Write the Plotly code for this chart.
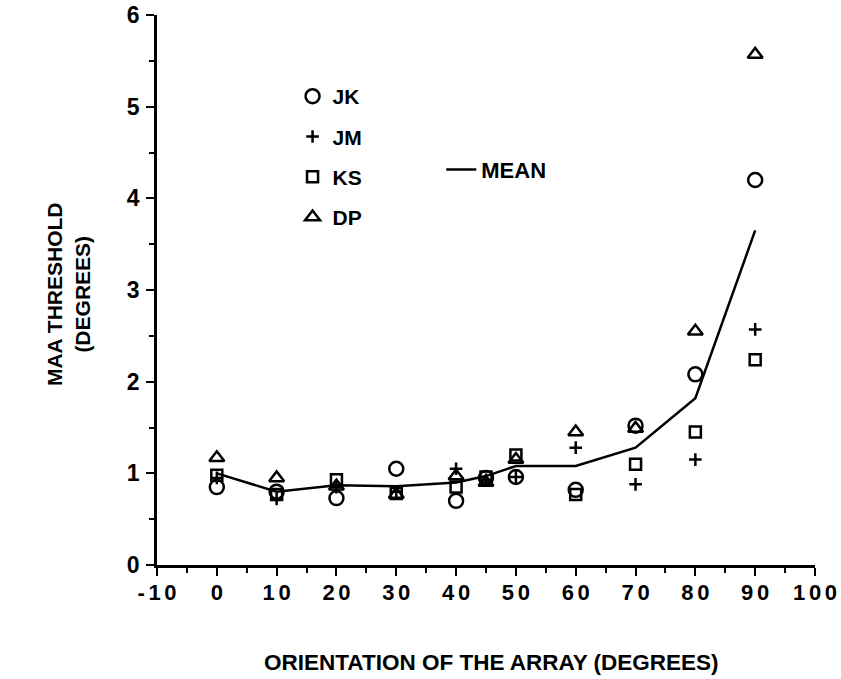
import plotly.graph_objects as go

orient = [0, 10, 20, 30, 40, 45, 50, 60, 70, 80, 90]
jk = [0.85, 0.80, 0.73, 1.05, 0.70, 0.95, 0.96, 0.82, 1.52, 2.08, 4.20]
jm = [0.95, 0.72, 0.85, 0.80, 1.05, 0.93, 0.96, 1.28, 0.88, 1.15, 2.57]
ks = [0.98, 0.77, 0.93, 0.78, 0.85, 0.96, 1.20, 0.77, 1.10, 1.45, 2.24]
dp = [1.17, 0.95, 0.86, 0.77, 0.97, 0.90, 1.15, 1.45, 1.49, 2.55, 5.57]
mean = [1.00, 0.80, 0.87, 0.86, 0.90, 0.97, 1.08, 1.08, 1.28, 1.82, 3.65]

S = "\u2006"
x_tickvals = [-10, 0, 10, 20, 30, 40, 50, 60, 70, 80, 90, 100]
x_ticktext = ["-" + S + "1" + S + "0", "0"] + [S.join(str(v)) for v in x_tickvals[2:]]
y_tickvals = [0, 1, 2, 3, 4, 5, 6]

FONT = "Liberation Sans"
fig = go.Figure()

fig.add_trace(go.Scatter(x=orient, y=mean, mode="lines", name="MEAN",
                         line=dict(color="black", width=2.5), legend="legend2"))

subjects = [("JK", jk, "circle-open", 14), ("JM", jm, "cross-thin-open", 9),
            ("KS", ks, "square-open", 11), ("DP", dp, "triangle-up-open", 13)]
for name, vals, sym, sz in subjects:
    fig.add_trace(go.Scatter(x=orient, y=vals, mode="markers", name=name,
                             legendgroup=name,
                             marker=dict(symbol=sym, size=sz, color="black",
                                         line=dict(color="black", width=2.5))))

fig.update_layout(
    width=841, height=679,
    margin=dict(l=157, r=26, t=15, b=114, autoexpand=False),
    plot_bgcolor="white", paper_bgcolor="white",
    font=dict(family=FONT, color="black", size=20, weight="bold"),
    legend=dict(x=0.206, y=0.889, xanchor="left", yanchor="top",
                tracegroupgap=10, font=dict(size=21, weight="bold"),
                bgcolor="rgba(0,0,0,0)"),
    legend2=dict(x=0.432, y=0.757, xanchor="left", yanchor="top",
                 font=dict(size=22, weight="bold"), bgcolor="rgba(0,0,0,0)"),
    xaxis=dict(range=[-10, 100], tickvals=x_tickvals, ticktext=x_ticktext,
               automargin=False,
               showgrid=False, zeroline=False, showline=True, linecolor="black",
               linewidth=2.5, ticks="outside", ticklen=8, tickwidth=2, tickcolor="black",
               minor=dict(dtick=5, ticks="outside", ticklen=5, tickwidth=2, tickcolor="black"),
               tickfont=dict(size=22, family=FONT, weight="bold"), ticklabelstandoff=-2),
    yaxis=dict(range=[0, 6], tickvals=y_tickvals, automargin=False,
               showgrid=False, zeroline=False, showline=True, linecolor="black",
               linewidth=2.5, ticks="outside", ticklen=8, tickwidth=2, tickcolor="black",
               minor=dict(dtick=0.5, ticks="outside", ticklen=5, tickwidth=2, tickcolor="black"),
               tickfont=dict(size=23, family=FONT, weight="bold"), ticklabelstandoff=2),
    annotations=[
        dict(text="ORIENTATION OF THE ARRAY (DEGREES)", xref="paper", yref="paper",
             x=0.508, y=-0.178, yanchor="middle", showarrow=False,
             font=dict(size=22.5, family=FONT, weight="bold")),
        dict(text="MAA THRESHOLD<br>(DEGREES)", xref="paper", yref="paper",
             x=-0.176, y=0.493, textangle=-90, showarrow=False,
             font=dict(size=21, family=FONT, weight="bold")),
    ],
)

fig.write_html("out.html")
